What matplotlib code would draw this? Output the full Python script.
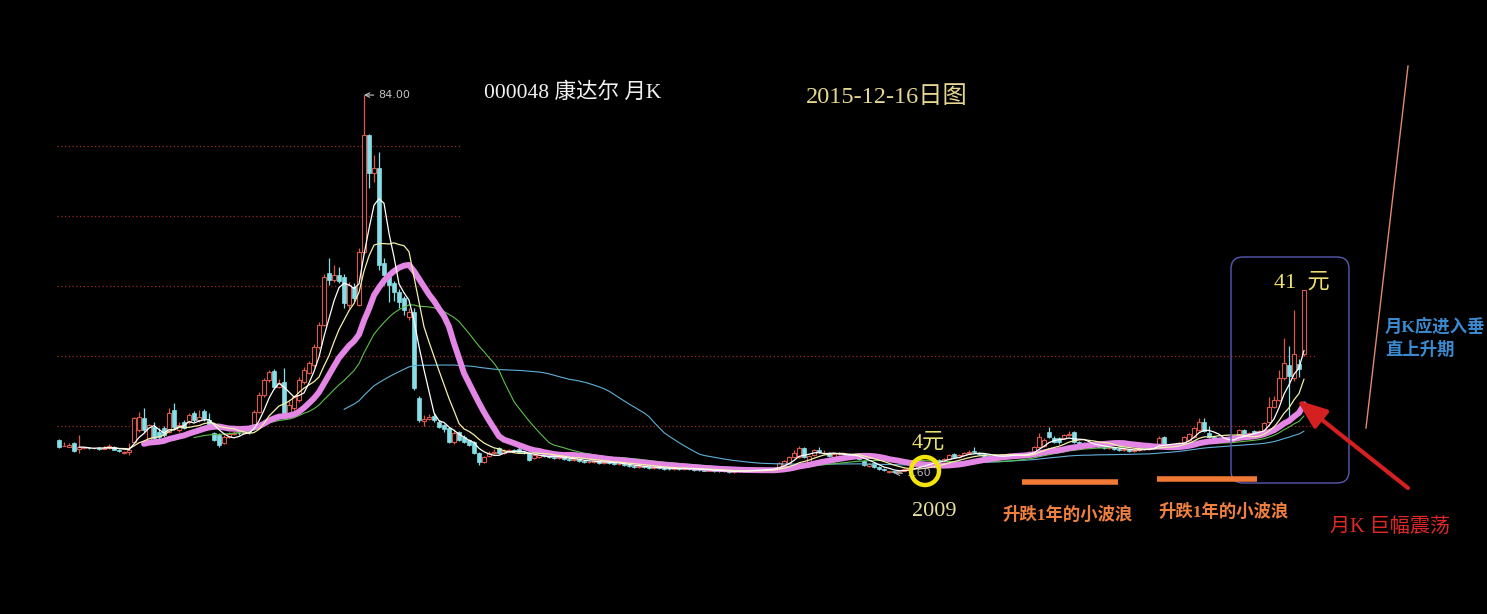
import numpy as np
import pandas as pd
import matplotlib
matplotlib.use('Agg')
import matplotlib.pyplot as plt
from matplotlib.patches import Circle, FancyBboxPatch

plt.rcParams['font.family'] = ['Liberation Serif', 'Noto Sans CJK SC', 'DejaVu Sans']

# monthly K data for 000048 (price, yuan)
opens = [7.9, 6.6, 6.4, 7.3, 6.0, 6.2, 6.2, 6.1, 6.2, 6.0,
         6.1, 6.5, 5.8, 5.0, 5.4, 7.5, 10.1, 12.8, 7.9, 10.8,
         9.7, 10.6, 9.7, 14.6, 10.1, 11.9, 11.9, 13.9, 12.3, 14.3,
         12.3, 9.5, 9.0, 7.3, 8.6, 9.3, 9.5, 9.4, 10.0, 11.2,
         14.1, 17.9, 21.2, 23.2, 19.6, 20.7, 13.9, 15.0, 16.8, 20.7,
         22.7, 24.5, 28.4, 33.3, 44.8, 43.2, 44.3, 43.9, 37.7, 41.7,
         37.7, 49.4, 75.2, 66.8, 67.9, 47.0, 44.3, 42.6, 40.6, 39.2,
         35.0, 36.2, 17.2, 12.1, 12.6, 13.2, 12.0, 11.2, 10.6, 7.5,
         9.7, 8.6, 7.9, 7.5, 5.1, 3.1, 4.4, 5.1, 6.2, 5.1,
         5.5, 5.7, 5.9, 5.3, 5.1, 3.9, 4.2, 4.6, 4.4, 4.2,
         4.0, 4.2, 3.8, 3.5, 3.7, 3.3, 3.1, 3.1, 3.3, 2.9,
         3.1, 2.9, 2.6, 2.7, 2.4, 2.2, 2.0, 2.2, 1.9, 1.8,
         1.9, 1.7, 1.6, 1.5, 1.7, 1.6, 1.8, 1.5, 1.4, 1.3,
         1.2, 1.3, 1.1, 1.0, 1.1, 0.9, 1.0, 1.2, 1.1, 1.3,
         1.4, 1.3, 1.6, 1.5, 1.8, 2.4, 2.9, 4.2, 4.2, 6.2,
         3.1, 4.6, 5.7, 5.1, 5.1, 4.2, 4.8, 4.8, 4.8, 4.4,
         4.2, 3.3, 2.2, 2.9, 2.0, 1.5, 0.8, 1.0, 0.9, 1.2,
         1.5, 1.8, 2.2, 2.4, 2.9, 3.1, 3.5, 3.3, 3.7, 4.8,
         4.2, 4.6, 5.1, 5.5, 5.1, 4.8, 4.4, 4.2, 4.2, 4.4,
         4.4, 4.6, 4.8, 4.4, 4.6, 5.3, 6.4, 6.6, 9.7, 8.4,
         8.4, 8.4, 9.0, 9.7, 7.5, 7.3, 7.1, 6.8, 6.6, 6.4,
         6.2, 6.4, 6.0, 5.7, 5.9, 5.5, 5.7, 6.0, 5.9, 6.2,
         6.8, 8.6, 6.8, 6.6, 6.8, 7.5, 7.9, 8.6, 10.1, 11.9,
         9.5, 8.6, 7.7, 8.2, 7.7, 8.0, 9.3, 10.1, 9.0, 9.9,
         9.3, 10.1, 11.9, 15.2, 16.8, 21.6, 24.5, 21.6, 24.7, 26.9]
closes = [6.4, 6.7, 6.9, 5.5, 6.4, 6.3, 6.1, 6.2, 6.0, 6.2,
          6.6, 5.8, 5.6, 5.3, 5.8, 12.8, 13.0, 10.1, 11.2, 8.4,
          8.6, 9.0, 13.9, 10.8, 11.2, 10.6, 13.5, 12.3, 13.0, 12.5,
          10.8, 7.9, 6.8, 8.6, 9.3, 9.5, 9.4, 9.7, 9.6, 14.1,
          17.9, 21.2, 22.9, 19.6, 20.5, 13.9, 15.7, 17.4, 21.2, 23.4,
          24.9, 28.4, 33.3, 43.9, 43.2, 44.3, 43.0, 38.1, 42.1, 39.2,
          49.4, 75.2, 66.8, 67.9, 46.5, 44.3, 42.1, 40.6, 38.4, 36.6,
          36.2, 19.4, 12.3, 12.6, 13.0, 12.3, 10.8, 10.3, 7.5, 9.5,
          8.0, 7.5, 6.8, 5.1, 3.1, 4.2, 5.1, 5.3, 5.1, 5.5,
          5.7, 5.5, 5.3, 5.1, 3.5, 4.6, 4.6, 4.4, 4.2, 4.0,
          4.2, 3.8, 3.5, 3.7, 3.3, 3.1, 3.1, 3.3, 2.9, 3.1,
          2.9, 2.6, 2.7, 2.4, 2.2, 2.0, 2.2, 1.9, 1.8, 1.9,
          1.7, 1.6, 1.5, 1.7, 1.6, 1.8, 1.5, 1.4, 1.3, 1.2,
          1.3, 1.1, 1.0, 1.1, 0.9, 1.0, 1.2, 1.1, 1.3, 1.4,
          1.3, 1.6, 1.5, 1.7, 2.9, 3.3, 4.2, 5.0, 6.2, 4.2,
          4.4, 5.7, 5.3, 5.1, 4.4, 4.8, 4.8, 4.8, 4.4, 4.2,
          3.8, 2.4, 2.7, 2.0, 1.5, 1.3, 1.0, 0.9, 1.2, 1.5,
          1.8, 2.2, 2.4, 2.9, 3.1, 3.5, 3.3, 3.7, 4.6, 4.2,
          4.6, 5.1, 5.3, 5.3, 4.8, 4.4, 4.2, 4.2, 4.4, 4.6,
          4.8, 4.8, 4.4, 4.6, 5.3, 6.4, 8.6, 7.9, 8.6, 7.5,
          7.5, 9.0, 9.3, 7.5, 7.3, 7.1, 6.8, 6.6, 6.4, 6.2,
          6.4, 6.0, 5.7, 5.9, 5.5, 5.7, 6.0, 5.9, 6.2, 6.6,
          8.4, 6.8, 6.6, 6.8, 7.3, 8.6, 9.3, 10.6, 11.9, 9.9,
          8.6, 7.5, 8.2, 7.7, 8.0, 8.4, 10.1, 9.3, 9.5, 9.3,
          9.9, 11.7, 15.2, 16.8, 21.6, 24.9, 22.0, 26.9, 23.6, 41.0]
highs = [8.2, 7.5, 7.2, 7.5, 9.0, 6.5, 6.4, 6.4, 6.3, 6.6,
         7.0, 6.6, 5.9, 5.5, 7.3, 13.0, 14.1, 15.0, 11.5, 11.9,
         10.5, 11.0, 15.0, 16.0, 11.8, 12.3, 14.0, 14.4, 14.6, 14.8,
         13.9, 9.8, 9.5, 9.0, 9.8, 9.9, 9.8, 10.0, 10.3, 14.6,
         18.5, 21.6, 23.4, 23.6, 21.4, 23.8, 16.5, 17.9, 21.8, 24.0,
         25.4, 29.0, 33.9, 44.5, 48.1, 46.5, 46.0, 44.5, 42.8, 42.5,
         50.2, 84.0, 75.5, 70.8, 71.4, 48.0, 44.8, 43.0, 41.2, 39.8,
         37.0, 37.0, 17.6, 13.4, 13.6, 13.9, 12.3, 11.5, 10.8, 10.3,
         10.0, 9.0, 8.2, 7.7, 5.3, 4.5, 5.5, 5.9, 6.4, 5.9,
         6.0, 5.9, 6.6, 5.5, 5.3, 4.8, 4.8, 4.8, 4.6, 4.4,
         4.4, 4.3, 4.0, 3.9, 3.8, 3.5, 3.3, 3.5, 3.4, 3.3,
         3.2, 3.0, 2.9, 2.8, 2.6, 2.4, 2.4, 2.3, 2.1, 2.1,
         2.0, 1.9, 1.8, 1.9, 1.8, 2.0, 1.9, 1.6, 1.5, 1.4,
         1.5, 1.4, 1.2, 1.3, 1.2, 1.2, 1.4, 1.3, 1.5, 1.6,
         1.6, 1.8, 1.8, 2.0, 3.1, 3.5, 4.4, 5.7, 6.6, 6.4,
         4.6, 5.9, 6.4, 5.7, 5.3, 5.0, 5.3, 5.1, 5.0, 4.6,
         4.4, 3.5, 2.9, 3.1, 2.2, 1.7, 1.2, 1.2, 1.4, 1.7,
         2.0, 2.4, 2.7, 3.1, 3.4, 3.8, 3.7, 3.9, 4.8, 5.0,
         4.8, 5.3, 5.7, 6.4, 5.3, 5.0, 4.6, 4.5, 4.6, 4.8,
         5.0, 5.1, 5.0, 4.8, 5.5, 6.6, 9.5, 8.4, 10.8, 8.8,
         8.6, 9.3, 9.9, 9.9, 7.8, 7.5, 7.3, 7.0, 6.8, 6.6,
         6.6, 6.5, 6.1, 6.2, 6.0, 5.9, 6.2, 6.2, 6.4, 6.8,
         8.8, 8.8, 7.0, 7.0, 7.5, 8.8, 9.5, 10.8, 12.8, 12.8,
         11.0, 8.8, 8.4, 8.4, 8.2, 8.6, 10.4, 10.3, 9.8, 10.1,
         10.1, 12.0, 17.4, 17.6, 23.4, 30.4, 28.7, 36.6, 25.8, 41.0]
lows = [6.2, 6.6, 6.4, 5.4, 5.1, 6.0, 6.0, 5.9, 5.8, 5.9,
        6.0, 5.7, 5.4, 4.8, 4.6, 7.2, 9.8, 9.8, 7.5, 8.2,
        8.2, 8.6, 9.5, 10.5, 9.8, 10.3, 11.5, 12.0, 12.0, 12.2,
        10.5, 7.7, 6.4, 7.0, 8.4, 9.0, 9.1, 9.2, 9.3, 10.9,
        13.8, 17.5, 20.8, 19.2, 19.4, 13.5, 13.5, 14.6, 16.4, 20.3,
        22.4, 24.0, 28.0, 33.0, 42.1, 42.8, 42.5, 37.0, 37.0, 38.5,
        37.4, 49.0, 63.5, 64.8, 45.5, 42.1, 38.4, 38.5, 37.0, 35.5,
        34.5, 19.0, 12.0, 11.0, 12.3, 12.0, 10.5, 9.8, 7.3, 7.0,
        7.8, 7.3, 6.6, 4.9, 2.4, 2.9, 4.2, 4.9, 4.9, 4.9,
        5.3, 5.3, 5.1, 4.9, 3.3, 3.7, 4.0, 4.2, 4.0, 3.8,
        3.8, 3.6, 3.3, 3.3, 3.1, 2.9, 2.9, 2.9, 2.7, 2.7,
        2.7, 2.4, 2.4, 2.2, 2.0, 1.8, 1.8, 1.7, 1.6, 1.6,
        1.5, 1.4, 1.3, 1.3, 1.4, 1.4, 1.3, 1.2, 1.1, 1.0,
        1.0, 0.9, 0.8, 0.8, 0.7, 0.7, 0.8, 0.9, 0.9, 1.1,
        1.1, 1.1, 1.3, 1.3, 1.6, 2.2, 2.7, 4.0, 4.0, 4.0,
        2.9, 4.4, 5.1, 4.8, 4.2, 4.0, 4.6, 4.6, 4.2, 4.0,
        3.6, 2.2, 2.0, 1.8, 1.3, 1.1, 0.7, 0.6, 0.8, 1.0,
        1.3, 1.6, 2.0, 2.2, 2.7, 2.9, 3.1, 3.1, 3.5, 4.0,
        4.0, 4.4, 4.9, 5.1, 4.6, 4.2, 4.0, 4.0, 4.0, 4.2,
        4.2, 4.4, 4.2, 4.2, 4.4, 5.1, 6.2, 6.4, 8.4, 7.3,
        7.1, 8.2, 8.8, 7.3, 7.1, 6.9, 6.6, 6.4, 6.2, 6.0,
        6.0, 5.8, 5.5, 5.5, 5.3, 5.3, 5.5, 5.7, 5.7, 6.0,
        6.6, 6.6, 6.4, 6.4, 6.6, 7.3, 7.7, 8.4, 9.9, 9.7,
        8.4, 7.3, 7.5, 7.5, 7.5, 7.8, 9.1, 9.1, 8.8, 9.1,
        9.1, 9.9, 11.7, 15.0, 16.6, 21.2, 13.0, 21.0, 21.9, 26.5]

ma_windows = [58, 28, 18, 10, 5]
grid_levels = [11.0, 26.5, 41.9, 57.3, 72.8]
low_label = '1.60'

RED = '#d9584a'
CYAN = '#86dfe6'

fig = plt.figure(figsize=(14.87, 6.14), dpi=100, facecolor='black')
ax = fig.add_axes([0, 0, 1, 1])
ax.set_facecolor('black')
ax.axis('off')
ax.set_xlim(-11.8, 285.6)
ax.set_ylim(-30.43, 104.96)

o = np.array(opens)
c = np.array(closes)
h = np.array(highs)
l = np.array(lows)
x = np.arange(len(c))

# dotted price grid (upper ones only over the left part)
for k, lev in enumerate(grid_levels):
    xr = 251.6 if k < 2 else 80.6
    ax.hlines(lev, -0.4, xr, colors='#9c2a22', linestyles=(0, (1, 2)), lw=0.9, zorder=1)

# candles: red hollow = up, cyan filled = down
up = c >= o
top = np.maximum(o, c)
bot = np.minimum(o, c)
ax.vlines(x[up], top[up], h[up], color=RED, lw=0.9, zorder=2)
ax.vlines(x[up], l[up], bot[up], color=RED, lw=0.9, zorder=2)
ax.vlines(x[~up], l[~up], h[~up], color=CYAN, lw=0.9, zorder=2)
ax.bar(x[up], (c - o)[up], bottom=o[up], width=0.7, facecolor='black',
       edgecolor=RED, lw=0.8, zorder=2)
ax.bar(x[~up], (o - c)[~up], bottom=c[~up], width=0.7, color=CYAN,
       edgecolor=CYAN, lw=0.5, zorder=2)

# moving averages
ma_style = {58: ('#5fb0d8', 0.8), 28: ('#5cbf4c', 0.8), 18: ('#e486e6', 4.3),
            10: ('#f2f0a8', 0.9), 5: ('#ffffff', 0.9)}
s = pd.Series(c)
for n in ma_windows:
    col, w = ma_style[n]
    ax.plot(x, s.rolling(n).mean(), color=col, lw=w, zorder=3, solid_capstyle='round')

# max / min price labels
pk = int(np.argmax(h))
ax.annotate(f'{h[pk]:.2f}', xy=(pk, h[pk]), xytext=(10, 0), textcoords='offset points',
            color='#c4c4c4', fontsize=8, family='DejaVu Sans', va='center', ha='left',
            arrowprops=dict(arrowstyle='->', color='#c4c4c4', lw=0.8, shrinkA=1, shrinkB=0))
lo = int(np.argmin(l))
ax.annotate(low_label, xy=(lo, l[lo]), xytext=(9, 0), textcoords='offset points',
            color='#b4b4b4', fontsize=8, family='DejaVu Sans', va='center', ha='left',
            arrowprops=dict(arrowstyle='->', color='#b4b4b4', lw=0.8, shrinkA=1, shrinkB=0))

# overlay in pixel coordinates for the hand-drawn notes
ov = fig.add_axes([0, 0, 1, 1], zorder=5)
ov.set_xlim(0, 1487)
ov.set_ylim(614, 0)
ov.axis('off')
ov.patch.set_alpha(0)

ov.text(484, 93, '000048 康达尔 月K', color='#f2f2f2', fontsize=15.5, va='center', ha='left')
ov.text(806, 97, '2015-12-16日图', color='#e6d890', fontsize=17.5, va='center', ha='left')

ov.text(912, 443, '4元', color='#e8e070', fontsize=16, va='center', ha='left')
ov.text(912, 511, '2009', color='#e8e0a0', fontsize=16, va='center', ha='left')
ov.add_patch(Circle((925, 471), 14, fill=False, ec='#f2e40c', lw=3.2))

ov.plot([1022, 1118], [482, 482], color='#f07a35', lw=4, solid_capstyle='butt')
ov.plot([1157, 1257], [479, 479], color='#f07a35', lw=4, solid_capstyle='butt')
ov.text(1002, 515, '升跌1年的小波浪', color='#f08040', fontsize=12.5, fontweight='bold',
        va='center', ha='left')
ov.text(1158, 512, '升跌1年的小波浪', color='#f08040', fontsize=12.5, fontweight='bold',
        va='center', ha='left')

ov.add_patch(FancyBboxPatch((1231, 257), 118, 226, boxstyle='round,pad=0,rounding_size=12',
                            fill=False, ec='#5a5ab0', lw=1.0))
ov.text(1274, 283, '41  元', color='#f0e070', fontsize=16, va='center', ha='left')

ov.text(1385, 327, '月K应进入垂', color='#3a8ad0', fontsize=12.5, fontweight='bold',
        va='center', ha='left')
ov.text(1385, 350, '直上升期', color='#3a8ad0', fontsize=12.5, fontweight='bold',
        va='center', ha='left')
ov.plot([1366, 1408], [428, 66], color='#e08a70', lw=1.0)

ov.annotate('', xy=(1297, 400), xytext=(1408, 488),
            arrowprops=dict(arrowstyle='-|>,head_length=0.9,head_width=0.35', color='#d42020',
                            lw=3, mutation_scale=20, shrinkA=0, shrinkB=0))
ov.text(1330, 527, '月K 巨幅震荡', color='#e02828', fontsize=14.5, va='center', ha='left')

fig.savefig('out.png', dpi=100, facecolor='black')
